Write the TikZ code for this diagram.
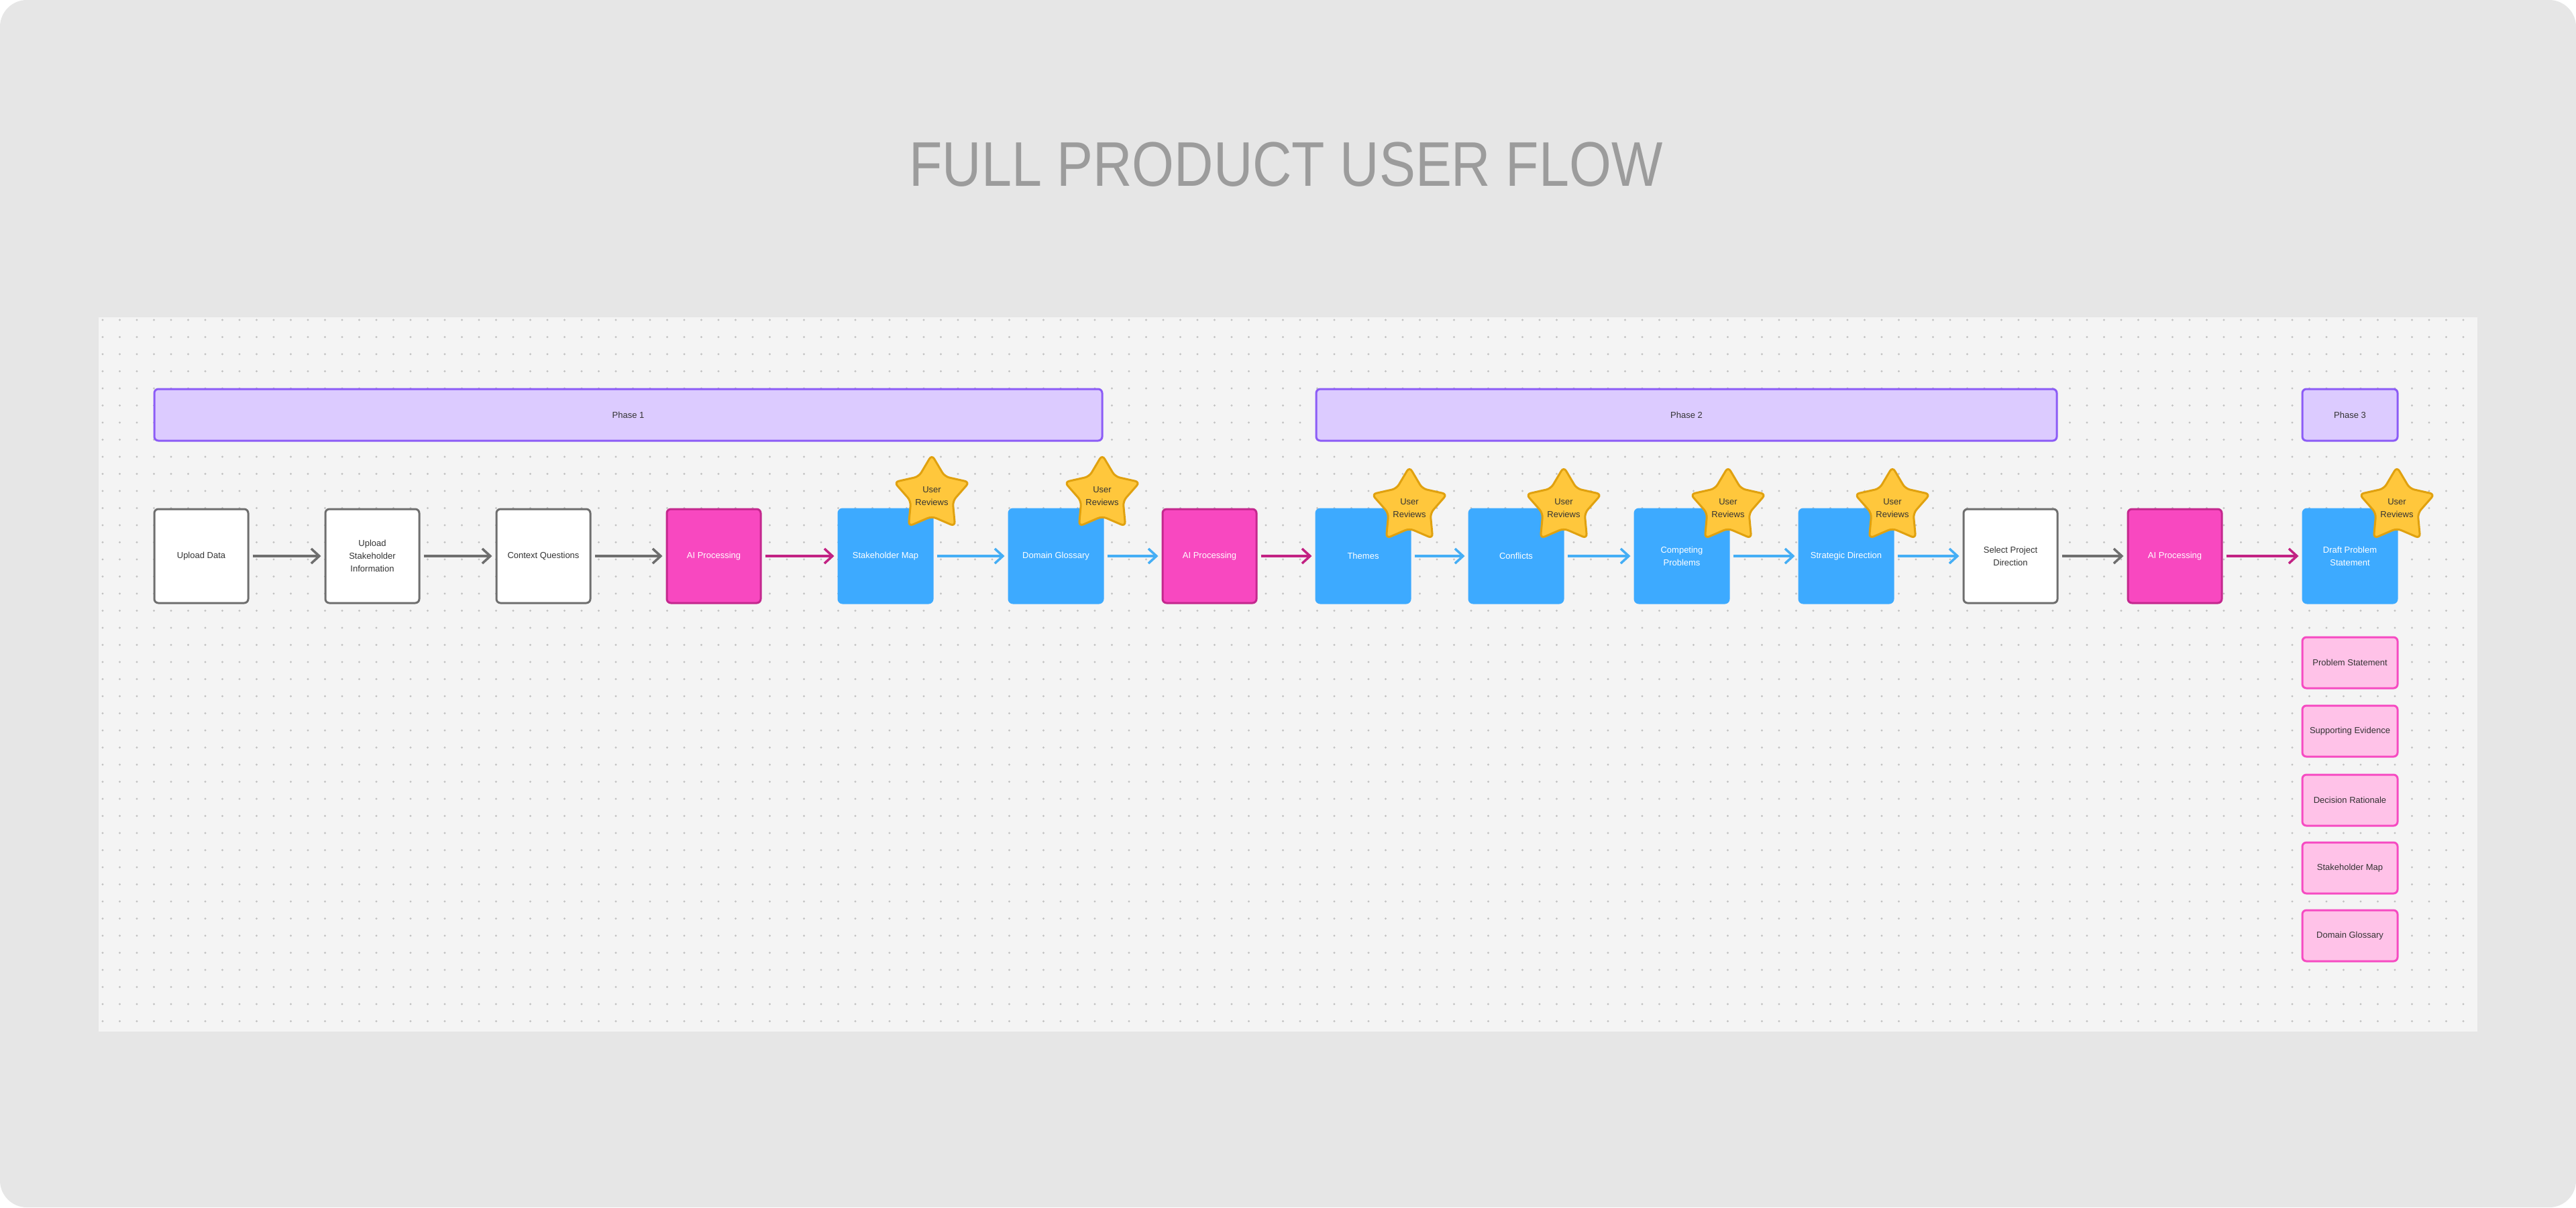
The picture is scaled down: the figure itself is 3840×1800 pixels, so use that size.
\documentclass[tikz,border=0pt]{standalone}
\usepackage{fontspec}
\setmainfont{Liberation Sans}
\usetikzlibrary{shapes.geometric,arrows.meta}
\definecolor{outerbg}{HTML}{E6E6E6}
\definecolor{panelbg}{HTML}{F4F4F4}
\definecolor{dotc}{HTML}{C2C2C2}
\definecolor{grayline}{HTML}{6E6E6E}
\definecolor{txt}{HTML}{333333}
\definecolor{aifill}{HTML}{F848C0}
\definecolor{aidraw}{HTML}{C4288E}
\definecolor{magarrow}{HTML}{C22283}
\definecolor{bluefill}{HTML}{3DAAFF}
\definecolor{bluearrow}{HTML}{45AEF5}
\definecolor{phasefill}{HTML}{DCCBFF}
\definecolor{phasedraw}{HTML}{8C5CF6}
\definecolor{pinkfill}{HTML}{FFC2E8}
\definecolor{pinkdraw}{HTML}{F64BC2}
\definecolor{starfill}{HTML}{FFC73C}
\definecolor{stardraw}{HTML}{E0A10F}
\definecolor{titlec}{HTML}{9C9C9C}
\begin{document}
\begin{tikzpicture}[x=1pt,y=-1pt,
  every node/.style={font=\fontsize{13}{19}\selectfont, align=center, inner sep=0pt},
  basebox/.style={rectangle, rounded corners=6pt, minimum width=140pt, minimum height=140pt, line width=3pt},
  whitebox/.style={basebox, fill=white, draw=grayline, text=txt},
  aibox/.style={basebox, fill=aifill, draw=aidraw, text=white},
  bluebox/.style={basebox, fill=bluefill, draw=bluefill, text=white},
  phasebox/.style={rectangle, rounded corners=6pt, minimum height=77pt, line width=3pt, fill=phasefill, draw=phasedraw, text=txt},
  outbox/.style={rectangle, rounded corners=6pt, minimum width=142pt, minimum height=76pt, line width=3pt, fill=pinkfill, draw=pinkdraw, text=txt},
  starshape/.style={star, star points=5, star point ratio=1.8, minimum size=118pt, fill=starfill, draw=stardraw, line width=3pt, rounded corners=7pt},
  startext/.style={text=txt},
  arr/.style={line width=3.5pt, shorten <=5pt, shorten >=5pt, -{Straight Barb[length=12pt,width=22pt,line width=3.5pt]}},
  garrow/.style={arr, draw=grayline},
  marrow/.style={arr, draw=magarrow},
  barrow/.style={arr, draw=bluearrow}]
% backgrounds
\useasboundingbox (0,0) rectangle (3840,1800);
\fill[white] (0,0) rectangle (3840,1800);
\fill[outerbg, rounded corners=40pt] (0,0) rectangle (3840,1800);
\fill[panelbg] (147,473) rectangle (3693,1538);
\foreach \i in {0,...,138} {
  \foreach \j in {0,...,41} {
    \fill[dotc] (153+\i*25.5, 477+\j*25.5) circle (1.6pt);
  }
}
% title
\node[text=titlec, font=\fontsize{94}{100}\selectfont, xscale=0.86] (title) at (1917,245) {FULL PRODUCT USER FLOW};
% phases
\node[phasebox, minimum width=1413pt] (ph1) at (936.5,618.5) {Phase 1};
\node[phasebox, minimum width=1104pt] (ph2) at (2514,618.5) {Phase 2};
\node[phasebox, minimum width=142pt] (ph3) at (3503,618.5) {Phase 3};
% main row
\node[whitebox] (n1) at (300,829) {Upload Data};
\node[whitebox] (n2) at (555,829) {Upload\\Stakeholder\\Information};
\node[whitebox] (n3) at (810,829) {Context Questions};
\node[aibox] (n4) at (1064,829) {AI Processing};
\node[bluebox] (n5) at (1320,829) {Stakeholder Map};
\node[bluebox] (n6) at (1574,829) {Domain Glossary};
\node[aibox] (n7) at (1803,829) {AI Processing};
\node[bluebox] (n8) at (2032,829) {Themes};
\node[bluebox] (n9) at (2260,829) {Conflicts};
\node[bluebox] (n10) at (2507,829) {Competing\\Problems};
\node[bluebox] (n11) at (2752,829) {Strategic Direction};
\node[whitebox] (n12) at (2997,829) {Select Project\\Direction};
\node[aibox] (n13) at (3242,829) {AI Processing};
\node[bluebox] (n14) at (3503,829) {Draft Problem\\Statement};
% outputs
\node[outbox] (o1) at (3503,988) {Problem Statement};
\node[outbox] (o2) at (3503,1090) {Supporting Evidence};
\node[outbox] (o3) at (3503,1193) {Decision Rationale};
\node[outbox] (o4) at (3503,1294) {Stakeholder Map};
\node[outbox] (o5) at (3503,1395) {Domain Glossary};
% arrows
\draw[garrow] (n1.east) -- (n2.west);
\draw[garrow] (n2.east) -- (n3.west);
\draw[garrow] (n3.east) -- (n4.west);
\draw[marrow] (n4.east) -- (n5.west);
\draw[barrow] (n5.east) -- (n6.west);
\draw[barrow] (n6.east) -- (n7.west);
\draw[marrow] (n7.east) -- (n8.west);
\draw[barrow] (n8.east) -- (n9.west);
\draw[barrow] (n9.east) -- (n10.west);
\draw[barrow] (n10.east) -- (n11.west);
\draw[barrow] (n11.east) -- (n12.west);
\draw[garrow] (n12.east) -- (n13.west);
\draw[marrow] (n13.east) -- (n14.west);
% stars
\foreach \nm/\x/\y in {s5/1389/737, s6/1643/737, s8/2101/755, s9/2331/755, s10/2576/755, s11/2821/755, s14/3573/755} {
  \node[starshape] (\nm) at (\x,\y) {};
  \node[startext] (\nm t) at (\x,\y+3) {User\\Reviews};
}
\end{tikzpicture}
\end{document}
